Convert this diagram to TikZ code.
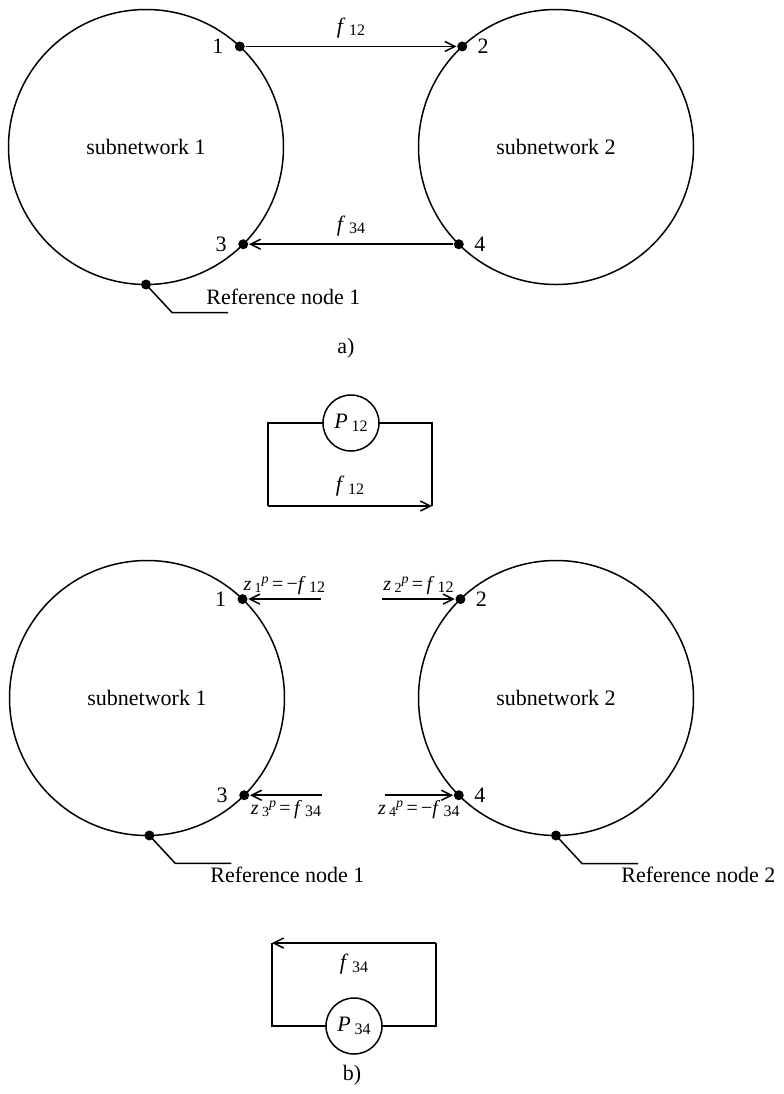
\documentclass[tikz,border=0pt]{standalone}
\usepackage{fontspec}
\setmainfont{Liberation Serif}
\usetikzlibrary{arrows.meta}
\newcommand\lsub[1]{\,\raisebox{-0.25ex}{\footnotesize #1}}
\newcommand\zsub[1]{\,\raisebox{-0.3ex}{\scriptsize #1}}
\newcommand\zsup{\raisebox{0.7ex}{\scriptsize\textit{p}}}
\begin{document}
\begin{tikzpicture}[x=0.5pt,y=-0.5pt,
  line width=0.75pt,
  every node/.style={font=\fontsize{11}{13}\selectfont},
  subnet/.style={circle,draw,minimum size=137.5pt,inner sep=0pt,outer sep=0pt},
  dot/.style={circle,fill,inner sep=0pt,minimum size=5pt},
  pcirc/.style={circle,draw,minimum size=28pt,inner sep=0pt,outer sep=0pt},
  arr/.style={-{Straight Barb[length=5pt,width=5pt]}},
  zlab/.style={font=\fontsize{10}{12}\selectfont,inner sep=1pt}]
\useasboundingbox (0,0) rectangle (783,1094);

% ---------- a) ----------
\node[subnet] (S1) at (146,147) {subnetwork 1};
\node[subnet] (S2) at (556,147) {subnetwork 2};
\node[dot] (n1) at (S1.47) {};
\node[dot] (n2) at (S2.133) {};
\node[dot] (n3) at (S1.-45) {};
\node[dot] (n4) at (S2.-135) {};
\node[dot] (r1) at (S1.-90) {};
\node (t1) at ([xshift=-11pt]n1.center) {1};
\node (t2) at ([xshift=10.5pt]n2.center) {2};
\node (t3) at ([xshift=-11pt]n3.center) {3};
\node (t4) at ([xshift=10.5pt]n4.center) {4};
\draw[arr] (n1) -- (n2) node[midway,above=0.5pt] (f12) {\textit{f}\lsub{12}};
\draw[arr] (n4) -- (n3) node[midway,above=0.5pt] (f34) {\textit{f}\lsub{34}};
\draw (r1.center) -- ++(26,28) coordinate (r1b) -- ++(56,0) coordinate (r1c);
\node[anchor=west] (rt1) at (199,297) {Reference node 1};
\node (la) at (346,348) {a)};

% ---------- P12 ----------
\node[pcirc] (P12) at (351,423) {\textit{P}\lsub{12}};
\coordinate (pa) at (268,423);
\coordinate (pb) at (268,506);
\coordinate (pc) at (432,506);
\coordinate (pd) at (432,423);
\draw (P12) -- (pa) -- (pb);
\draw[arr] (pb) -- (pc) node[midway,above=1pt] (f12b) {\textit{f}\lsub{12}};
\draw (pc) -- (pd) -- (P12);

% ---------- b) ----------
\node[subnet] (S3) at (147,698) {subnetwork 1};
\node[subnet] (S4) at (556,698) {subnetwork 2};
\node[dot] (m1) at (S3.46) {};
\node[dot] (m2) at (S4.134) {};
\node[dot] (m3) at (S3.-45) {};
\node[dot] (m4) at (S4.-135) {};
\node[dot] (r3) at (S3.-89) {};
\node[dot] (r4) at (S4.-90) {};
\node (u1) at ([xshift=-11pt]m1.center) {1};
\node (u2) at ([xshift=10.5pt]m2.center) {2};
\node (u3) at ([xshift=-11pt]m3.center) {3};
\node (u4) at ([xshift=10.5pt]m4.center) {4};

\coordinate (z1s) at ([xshift=39pt]m1.center);
\coordinate (z2s) at ([xshift=-39pt]m2.center);
\coordinate (z3s) at ([xshift=39pt]m3.center);
\coordinate (z4s) at ([xshift=-37pt]m4.center);
\draw[arr] (z1s) -- (m1) node[midway,above=1pt,zlab] (zl1)
  {\textit{z}\zsub{1}\zsup\,=\,−\textit{f}\lsub{12}};
\draw[arr] (z2s) -- (m2) node[midway,above=1pt,zlab] (zl2)
  {\textit{z}\zsub{2}\zsup\,=\,\textit{f}\lsub{12}};
\draw[arr] (z3s) -- (m3) node[midway,below=1pt,zlab] (zl3)
  {\textit{z}\zsub{3}\zsup\,=\,\textit{f}\lsub{34}};
\draw[arr] (z4s) -- (m4) node[midway,below=1pt,zlab] (zl4)
  {\textit{z}\zsub{4}\zsup\,=\,−\textit{f}\lsub{34}};

\draw (r3.center) -- ++(26,28) coordinate (r3b) -- ++(56,0) coordinate (r3c);
\node[anchor=west] (rt3) at (203,875) {Reference node 1};
\draw (r4.center) -- ++(26,28) coordinate (r4b) -- ++(56,0) coordinate (r4c);
\node[anchor=west] (rt4) at (614,875) {Reference node 2};

% ---------- P34 ----------
\node[pcirc] (P34) at (354,1026) {\textit{P}\lsub{34}};
\coordinate (qa) at (436,1026);
\coordinate (qb) at (436,943);
\coordinate (qc) at (272,943);
\coordinate (qd) at (272,1026);
\draw (P34) -- (qa) -- (qb);
\draw[arr] (qb) -- (qc) node[midway,below=2pt] (f34b) {\textit{f}\lsub{34}};
\draw (qc) -- (qd) -- (P34);
\node (lb) at (352,1075) {b)};
\end{tikzpicture}
\end{document}
